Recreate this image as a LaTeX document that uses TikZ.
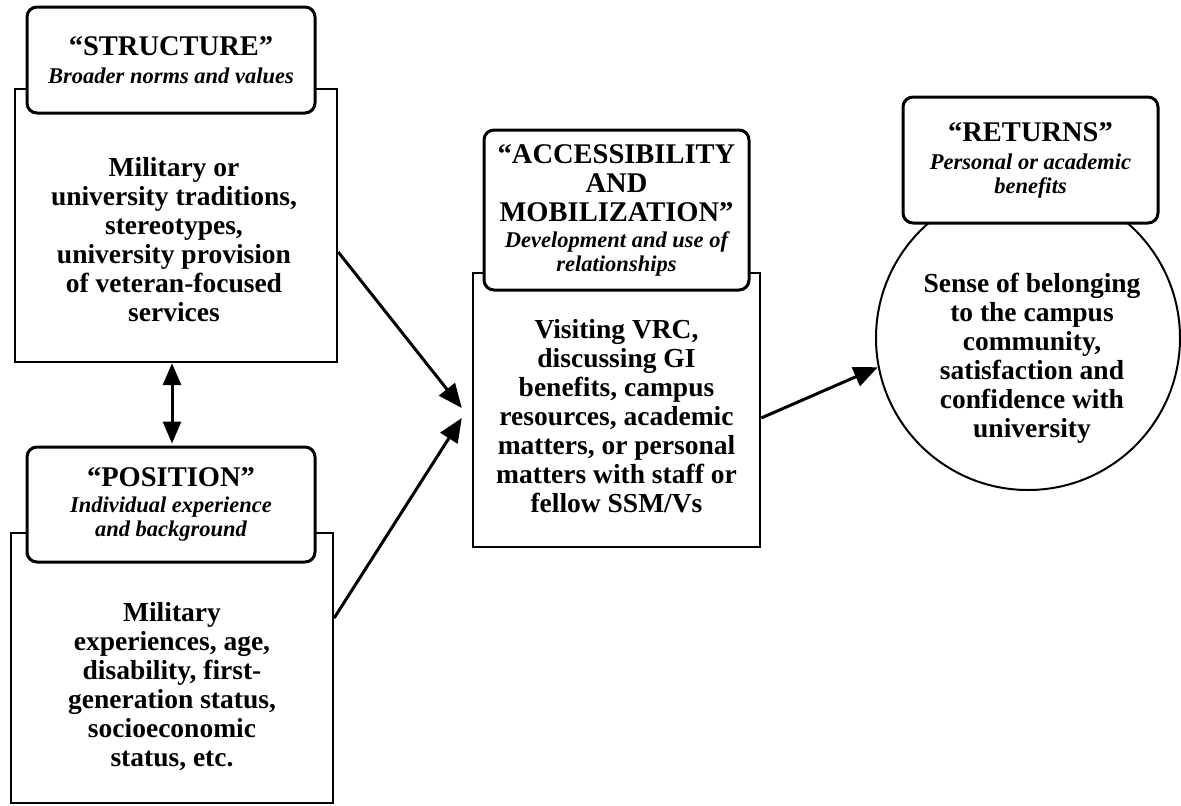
\documentclass[tikz,border=0pt]{standalone}
\usepackage{fontspec}
\setmainfont{Liberation Serif}
\usetikzlibrary{arrows.meta}
\begin{document}
\begin{tikzpicture}[x=1pt,y=-1pt,
  outerbox/.style={draw, line width=2.4pt, inner sep=0pt, fill=white},
  labelbox/.style={draw, line width=3pt, rounded corners=10pt, fill=white, inner sep=0pt, align=center,
    font=\fontsize{22.5}{24}\selectfont\bfseries\itshape},
  maintext/.style={align=center, inner sep=0pt, font=\fontsize{27.5}{29}\selectfont\bfseries},
  conn/.style={line width=3pt, -{Triangle[length=24pt,width=20pt]}},
  dconn/.style={line width=3pt, {Triangle[length=22pt,width=18pt]}-{Triangle[length=22pt,width=18pt]}}
]
\useasboundingbox (0,0) rectangle (1181,806);
\newcommand{\ttlfont}{\fontsize{28.5}{29}\selectfont\upshape\bfseries}

% STRUCTURE
\node[outerbox, minimum width=322pt, minimum height=273pt] (sbox) at (176,225.5) {};
\node[labelbox, minimum width=288pt, minimum height=106pt] (slabel) at (171,60)
  {{\ttlfont “STRUCTURE”}\\[4pt] Broader norms and values};
\node[maintext] (stext) at (174,240)
  {Military or\\ university traditions,\\ stereotypes,\\ university provision\\ of veteran-focused\\ services};

% POSITION
\node[outerbox, minimum width=322pt, minimum height=270pt] (pbox) at (172,668) {};
\node[labelbox, minimum width=288pt, minimum height=115pt] (plabel) at (171,504.5)
  {{\ttlfont “POSITION”}\\[2pt] Individual experience\\ and background};
\node[maintext] (ptext) at (172,687)
  {Military\\ experiences, age,\\ disability, first-\\ generation status,\\ socioeconomic\\ status, etc.};

% ACCESSIBILITY AND MOBILIZATION
\node[outerbox, minimum width=287pt, minimum height=274pt] (mbox) at (616.5,410) {};
\node[labelbox, minimum width=265pt, minimum height=160pt] (mlabel) at (616.5,210)
  {{\ttlfont “ACCESSIBILITY}\\[5pt] {\ttlfont AND}\\[5pt] {\ttlfont MOBILIZATION”}\\[2pt] Development and use of\\ relationships};
\node[maintext] (mtext) at (616.5,416)
  {Visiting VRC,\\ discussing GI\\ benefits, campus\\ resources, academic\\ matters, or personal\\ matters with staff or\\ fellow SSM/Vs};

% RETURNS
\node[draw, circle, line width=2pt, minimum size=304pt, inner sep=0pt] (circ) at (1028,338) {};
\node[labelbox, minimum width=255pt, minimum height=126pt] (rlabel) at (1030.5,160)
  {{\ttlfont “RETURNS”}\\[4pt] Personal or academic\\ benefits};
\node[maintext] (rtext) at (1032,358)
  {Sense of belonging\\ to the campus\\ community,\\ satisfaction and\\ confidence with\\ university};

% connectors
\draw[dconn] ([xshift=-4pt]sbox.south) -- ([xshift=1pt,yshift=2pt]plabel.north);
\draw[conn] ([yshift=-26.5pt]sbox.east) -- ([xshift=-10pt,yshift=2pt]mbox.west);
\draw[conn] ([yshift=50pt]pbox.east) -- ([xshift=-10pt,yshift=-8pt]mbox.west);
\draw[conn] ([yshift=-8pt]mbox.east) -- (circ.191);
\end{tikzpicture}
\end{document}
